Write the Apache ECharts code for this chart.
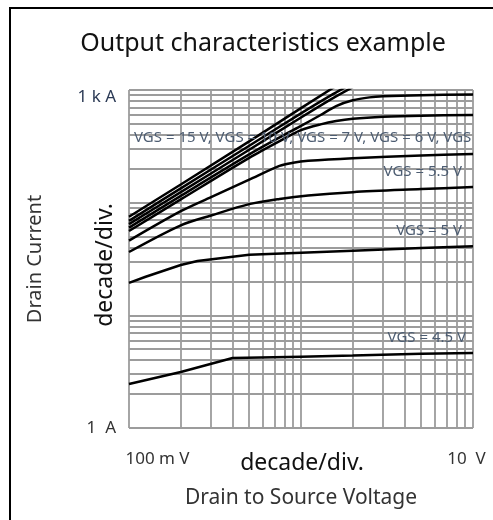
<!DOCTYPE html>
<html>
<head>
<meta charset="utf-8">
<script src="https://cdn.jsdelivr.net/npm/echarts@6/dist/echarts.min.js"></script>
<style>
  html, body { margin: 0; padding: 0; background: #fff; }
  #chart { width: 493px; height: 520px; }
</style>
</head>
<body>
<div id="chart"></div>
<script>
// drain current (A) vs drain-source voltage (V)
const vgs15 = [[0.1, 75], [0.2, 145], [0.5, 350], [1, 690], [2, 1350]];
const vgs10 = [[0.1, 69], [0.2, 134], [0.5, 320], [1, 620], [1.5, 900], [2, 1150]];
const vgs7 = [[0.1, 64.5], [0.2, 124], [0.5, 295], [1, 570], [1.5, 830], [2, 1060]];
const vgs6 = [[0.1, 60], [0.2, 115], [0.5, 268], [0.8, 400], [1, 480], [1.3, 600], [1.6, 720], [2, 810], [2.5, 860], [3, 880], [5, 900], [10, 910]];
const vgsB = [[0.1, 56], [0.2, 107], [0.5, 250], [0.8, 370], [1, 440], [1.3, 495], [1.6, 530], [2, 555], [3, 578], [5, 592], [10, 600]];
const vgsC = [[0.1, 46], [0.2, 84], [0.3, 112], [0.5, 160], [0.75, 212], [0.9, 226], [1.1, 235], [2, 248], [5, 262], [10, 270]];
const vgs55 = [[0.1, 36.5], [0.2, 63], [0.3, 77], [0.5, 97], [0.75, 108], [1.1, 116], [2, 124], [5, 132], [10, 138]];
const vgs5 = [[0.1, 19.4], [0.125, 22], [0.2, 28], [0.25, 30.3], [0.5, 34.5], [1, 36], [2, 37.5], [5, 39.5], [10, 41]];
const vgs45 = [[0.1, 2.46], [0.2, 3.14], [0.4, 4.18], [1, 4.3], [2, 4.4], [5, 4.55], [10, 4.63]];

const curves = [vgs15, vgs10, vgs7, vgs6, vgsB, vgsC, vgs55, vgs5, vgs45];
const curveNames = ['VGS = 15 V', 'VGS = 10 V', 'VGS = 7 V', 'VGS = 6 V', 'curve 5', 'curve 6', 'VGS = 5.5 V', 'VGS = 5 V', 'VGS = 4.5 V'];
const smoothCurves = [false, true, true, true, true, true, true, false, false];

// log grid lines
const xGrid = [0.1, 0.2, 0.3, 0.4, 0.5, 0.6, 0.7, 0.8, 0.9, 1, 2, 3, 4, 5, 6, 7, 8, 9, 10];
const yGrid = [1, 2, 3, 4, 5, 6, 7, 8, 9, 10, 20, 30, 40, 50, 60, 70, 80, 90, 100, 200, 300, 400, 500, 600, 700, 800, 900, 1000];

const xLabelValues = [0.1, 10];
const xLabelTexts = ['{a|100 m V}', '{b|10  V}'];
const yLabelValues = [1, 1000];
const yLabelTexts = ['1  A', '{t|1 k A}'];

const FONT = '"Noto Sans", "Open Sans", sans-serif';
const NOTE = '#4d5d72';

function pickLabel(values, texts, v) {
  for (let i = 0; i < values.length; i++) {
    if (Math.abs(v - values[i]) / values[i] < 1e-6) return texts[i];
  }
  return '';
}

const chart = echarts.init(document.getElementById('chart'));

const gridLines = [];
xGrid.forEach(v => gridLines.push({ xAxis: v }));
yGrid.forEach(v => gridLines.push({ yAxis: v }));

const series = curves.map((d, i) => ({
  name: curveNames[i],
  type: 'line',
  data: d,
  smooth: smoothCurves[i] ? 0.3 : false,
  showSymbol: false,
  lineStyle: { color: '#000', width: 2.5 },
  z: 5,
  silent: true,
}));

series.unshift({
  name: 'grid',
  type: 'line',
  data: [],
  z: 1,
  silent: true,
  markLine: {
    silent: true,
    symbol: ['none', 'none'],
    label: { show: false },
    lineStyle: { color: '#9c9c9c', width: 1.8, type: 'solid' },
    emphasis: { disabled: true },
    data: gridLines,
  },
});

const option = {
  backgroundColor: '#fff',
  animation: false,
  grid: { left: 129, right: 20, top: 90, bottom: 92 },
  xAxis: {
    type: 'log',
    logBase: 10,
    min: 0.1,
    max: 10,
    axisLine: { show: false },
    axisTick: { show: false },
    splitLine: { show: false },
    axisLabel: {
      margin: 23,
      fontFamily: FONT,
      fontSize: 17,
      color: '#333',
      formatter: v => pickLabel(xLabelValues, xLabelTexts, v),
      rich: {
        a: { fontFamily: FONT, fontSize: 17, color: '#333', padding: [0, 0, 0, 57] },
        b: { fontFamily: FONT, fontSize: 17, color: '#333', padding: [0, 13, 0, 0] },
      },
    },
  },
  yAxis: {
    type: 'log',
    logBase: 10,
    min: 1,
    max: 1000,
    axisLine: { show: false },
    axisTick: { show: false },
    splitLine: { show: false },
    axisLabel: {
      margin: 13,
      fontFamily: FONT,
      fontSize: 17,
      color: '#333',
      formatter: v => pickLabel(yLabelValues, yLabelTexts, v),
      rich: {
        t: { fontFamily: FONT, fontSize: 17, color: '#2b3a55', padding: [14, 0, 0, 0] },
      },
    },
  },
  graphic: [
    {
      type: 'rect',
      shape: { x: 10, y: 8, width: 600, height: 600 },
      style: { fill: 'none', stroke: '#000', lineWidth: 2 },
      z: 0,
    },
    {
      type: 'text', x: 263, y: 44,
      style: { text: 'Output characteristics example', font: '25px ' + FONT, fill: '#111', align: 'center', verticalAlign: 'middle' },
    },
    {
      type: 'text', x: 35, y: 259, rotation: Math.PI / 2,
      style: { text: 'Drain Current', font: '20px ' + FONT, fill: '#333', align: 'center', verticalAlign: 'middle' },
    },
    {
      type: 'text', x: 105, y: 265, rotation: Math.PI / 2,
      style: { text: 'decade/div.', font: '23px ' + FONT, fill: '#111', align: 'center', verticalAlign: 'middle' },
    },
    {
      type: 'text', x: 302, y: 463,
      style: { text: 'decade/div.', font: '23px ' + FONT, fill: '#111', align: 'center', verticalAlign: 'middle' },
    },
    {
      type: 'text', x: 301, y: 498,
      style: { text: 'Drain to Source Voltage', font: '21px ' + FONT, fill: '#333', align: 'center', verticalAlign: 'middle' },
    },
    {
      type: 'text', x: 134, y: 138, z: 10,
      style: {
        text: 'VGS = 15 V, VGS = 10 V, VGS = 7 V, VGS = 6 V, VGS = 5.8 V',
        width: 339, overflow: 'truncate', ellipsis: '',
        font: '15px ' + FONT, fill: NOTE, align: 'left', verticalAlign: 'middle',
      },
    },
    {
      type: 'text', x: 462, y: 172, z: 10,
      style: { text: 'VGS = 5.5 V', font: '15px ' + FONT, fill: NOTE, align: 'right', verticalAlign: 'middle' },
    },
    {
      type: 'text', x: 462, y: 231, z: 10,
      style: { text: 'VGS = 5 V', font: '15px ' + FONT, fill: NOTE, align: 'right', verticalAlign: 'middle' },
    },
    {
      type: 'text', x: 466, y: 338, z: 10,
      style: { text: 'VGS = 4.5 V', font: '15px ' + FONT, fill: NOTE, align: 'right', verticalAlign: 'middle' },
    },
  ],
  series: series,
};

chart.setOption(option);
</script>
</body>
</html>
